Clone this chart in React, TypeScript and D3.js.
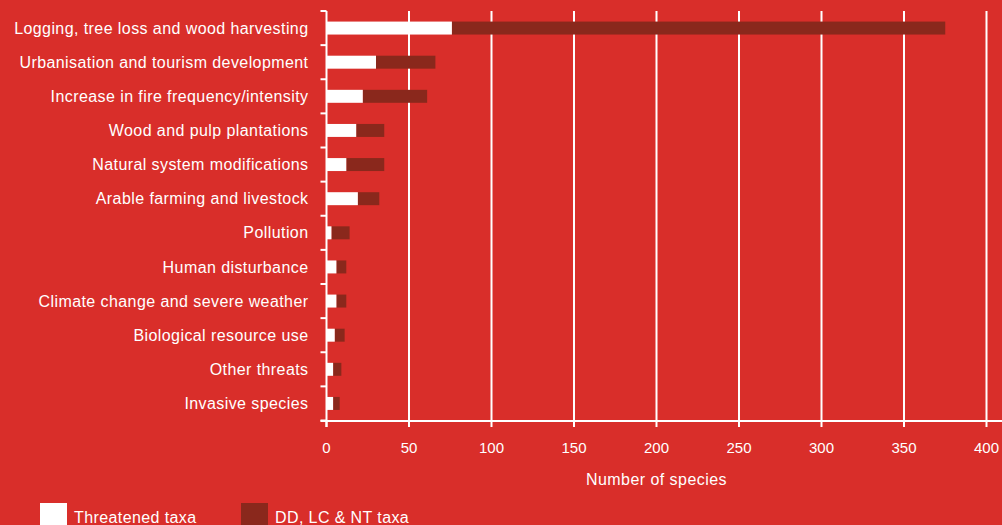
import { useEffect, useRef } from "react";
import * as d3 from "d3";

const categories = [
  "Logging, tree loss and wood harvesting",
  "Urbanisation and tourism development",
  "Increase in fire frequency/intensity",
  "Wood and pulp plantations",
  "Natural system modifications",
  "Arable farming and livestock",
  "Pollution",
  "Human disturbance",
  "Climate change and severe weather",
  "Biological resource use",
  "Other threats",
  "Invasive species",
];

const threatened = [76, 30, 22, 18, 12, 19, 3, 6, 6, 5, 4, 4];
const otherTaxa = [299, 36, 39, 17, 23, 13, 11, 6, 6, 6, 5, 4];

const xTicks = [0, 50, 100, 150, 200, 250, 300, 350, 400];
const seriesNames = ["Threatened taxa", "DD, LC & NT taxa"];

const BG = "#d92e2a";
const DARK = "#8a281c";
const FONT = "'Liberation Sans', Arial, Helvetica, sans-serif";

const width = 1002;
const height = 525;
const margin = { top: 11, right: 16, bottom: 104, left: 326.5 };

const App = () => {
  const svgRef = useRef<SVGSVGElement>(null);

  useEffect(() => {
    if (!svgRef.current) return;
    const svg = d3.select(svgRef.current);
    svg.selectAll("*").remove();

    const innerHeight = height - margin.top - margin.bottom;

    svg
      .append("rect")
      .attr("width", width)
      .attr("height", height)
      .attr("fill", BG);

    const x = d3.scaleLinear().domain([0, 400]).range([0, 660]);
    const y = d3
      .scaleBand<string>()
      .domain(categories)
      .range([0, innerHeight - 0.5])
      .paddingInner(0.62)
      .paddingOuter(0.31);
    const yBand = d3
      .scaleBand<string>()
      .domain(categories)
      .range([0, innerHeight - 0.5]);

    const g = svg
      .append("g")
      .attr("transform", `translate(${margin.left},${margin.top})`);

    // gridlines
    g.selectAll("line.grid")
      .data(xTicks.slice(1))
      .join("line")
      .attr("class", "grid")
      .attr("x1", (d) => x(d))
      .attr("x2", (d) => x(d))
      .attr("y1", 0)
      .attr("y2", innerHeight)
      .attr("stroke", "#fff")
      .attr("stroke-width", 2);

    // stacked bars
    const rows = categories.map((c, i) => ({ c, a: threatened[i], b: otherTaxa[i] }));

    g.selectAll("rect.dark")
      .data(rows)
      .join("rect")
      .attr("class", "dark")
      .attr("x", (d) => x(d.a))
      .attr("y", (d) => y(d.c)!)
      .attr("width", (d) => x(d.a + d.b) - x(d.a))
      .attr("height", y.bandwidth())
      .attr("fill", DARK);

    g.selectAll("rect.white")
      .data(rows)
      .join("rect")
      .attr("class", "white")
      .attr("x", 0)
      .attr("y", (d) => y(d.c)!)
      .attr("width", (d) => x(d.a))
      .attr("height", y.bandwidth())
      .attr("fill", "#fff");

    // y axis line and boundary ticks
    g.append("line")
      .attr("x1", 0)
      .attr("x2", 0)
      .attr("y1", 0)
      .attr("y2", innerHeight + 6)
      .attr("stroke", "#fff")
      .attr("stroke-width", 2);

    const bounds = categories.map((c) => yBand(c)!).concat([innerHeight - 0.5]);
    g.selectAll("line.ytick")
      .data(bounds)
      .join("line")
      .attr("class", "ytick")
      .attr("x1", -6)
      .attr("x2", 0)
      .attr("y1", (d) => d)
      .attr("y2", (d) => d)
      .attr("stroke", "#fff")
      .attr("stroke-width", 2);

    g.selectAll("text.ylab")
      .data(categories)
      .join("text")
      .attr("class", "ylab")
      .attr("x", -18)
      .attr("y", (d) => yBand(d)! + yBand.bandwidth() / 2)
      .attr("dy", "0.35em")
      .attr("text-anchor", "end")
      .attr("fill", "#fff")
      .style("font", `16px ${FONT}`)
      .style("letter-spacing", "0.42px")
      .text((d) => d);

    // x axis
    g.append("line")
      .attr("x1", -6)
      .attr("x2", width - margin.left)
      .attr("y1", innerHeight)
      .attr("y2", innerHeight)
      .attr("stroke", "#fff")
      .attr("stroke-width", 2);

    g.selectAll("line.xtick")
      .data(xTicks)
      .join("line")
      .attr("class", "xtick")
      .attr("x1", (d) => x(d))
      .attr("x2", (d) => x(d))
      .attr("y1", innerHeight)
      .attr("y2", innerHeight + 6)
      .attr("stroke", "#fff")
      .attr("stroke-width", 2);

    g.selectAll("text.xlab")
      .data(xTicks)
      .join("text")
      .attr("class", "xlab")
      .attr("x", (d) => x(d))
      .attr("y", innerHeight + 27)
      .attr("dy", "0.35em")
      .attr("text-anchor", "middle")
      .attr("fill", "#fff")
      .style("font", `15px ${FONT}`)
      .text((d) => d);

    g.append("text")
      .attr("x", x(200))
      .attr("y", innerHeight + 58)
      .attr("dy", "0.35em")
      .attr("text-anchor", "middle")
      .attr("fill", "#fff")
      .style("font", `16px ${FONT}`)
      .style("letter-spacing", "0.45px")
      .text("Number of species");

    // legend
    const legendX = [40, 241];
    const legend = svg
      .selectAll("g.legend")
      .data(seriesNames)
      .join("g")
      .attr("class", "legend")
      .attr("transform", (_, i) => `translate(${legendX[i]},503)`);
    legend
      .append("rect")
      .attr("width", 27)
      .attr("height", 25)
      .attr("fill", (_, i) => (i === 0 ? "#fff" : DARK));
    legend
      .append("text")
      .attr("x", 34)
      .attr("y", 14)
      .attr("dy", "0.35em")
      .attr("fill", "#fff")
      .style("font", `16px ${FONT}`)
      .style("letter-spacing", "0.4px")
      .text((d) => d);
  }, []);

  return (
    <svg
      ref={svgRef}
      width={width}
      height={height}
      style={{ position: "absolute", left: 0, top: 0, display: "block" }}
    />
  );
};

export default App;
